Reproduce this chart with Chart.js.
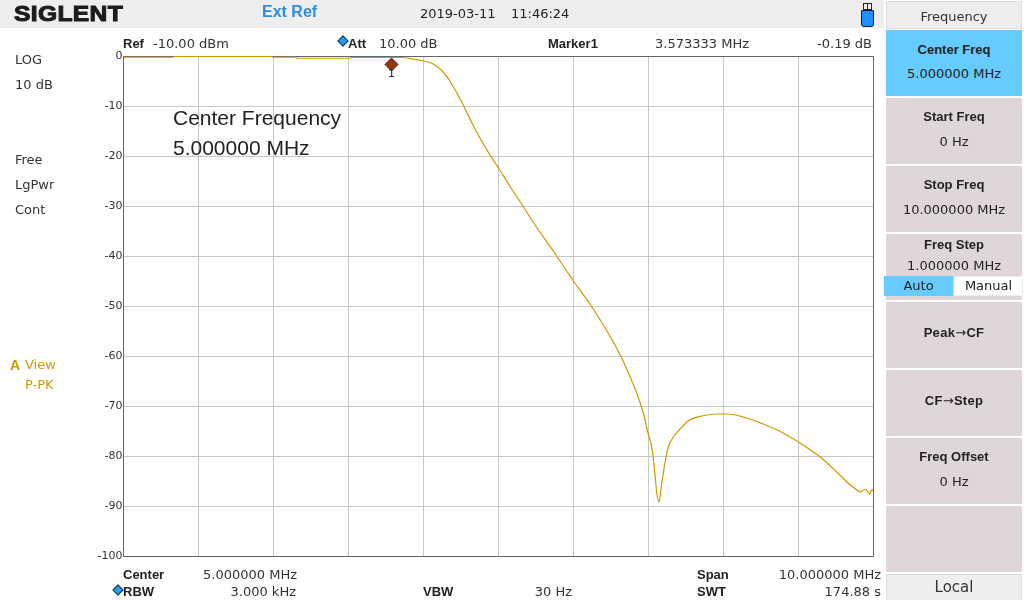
<!DOCTYPE html>
<html><head><meta charset="utf-8">
<style>
html,body{margin:0;padding:0;background:#fff;width:1024px;height:600px;overflow:hidden}
#wrap{position:relative;width:1024px;height:600px;overflow:hidden;font-family:"DejaVu Sans",sans-serif;font-size:13px;color:#333}
canvas{position:absolute;left:0;top:0}
.t{position:absolute;white-space:nowrap;line-height:14px}
.b{font-family:"Liberation Sans",sans-serif;font-weight:bold;font-size:13px;color:#222}
.r{text-align:right}
.btn{position:absolute;left:886px;width:136px;background:#dfd7d7;text-align:center}
.btn div{position:absolute;left:0;width:100%;line-height:14px}
.d{position:absolute;width:6px;height:6px;background:#2a9be8;border:1px solid #12365a;transform:rotate(45deg)}
.a{font-family:"DejaVu Sans";font-weight:normal}
</style></head><body><div id="wrap">
<div style="position:absolute;left:0;top:0;width:884px;height:28px;background:#eee"></div>
<canvas id="c" width="1024" height="600" style="width:1024px;height:600px"></canvas>
<div class="t" style="left:14px;top:1px;font:bold 22px/26px 'Liberation Sans';color:#1c1c1c;transform-origin:0 50%;transform:scaleX(1.12);letter-spacing:.3px;-webkit-text-stroke:1px #1c1c1c">SIGLENT</div>
<div class="t" style="left:262px;top:4px;font:bold 16px/16px 'Liberation Sans';color:#2b8fe0">Ext Ref</div>
<div class="t" style="left:420px;top:7px;color:#222">2019-03-11</div>
<div class="t" style="left:511px;top:7px;color:#222">11:46:24</div>
<div style="position:absolute;left:861px;top:10px;width:11px;height:15px;background:#1e90ff;border:1px solid #114;border-radius:1px 1px 3px 3px"></div>
<div style="position:absolute;left:863px;top:3px;width:3px;height:5px;border:1px solid #223;background:#eee"></div>
<div style="position:absolute;left:867px;top:3px;width:3px;height:5px;border:1px solid #223;background:#eee"></div>

<div class="t b" style="left:123px;top:37px">Ref</div>
<div class="t" style="left:153px;top:37px">-10.00 dBm</div>
<div class="d" style="left:339px;top:37px"></div>
<div class="t b" style="left:348px;top:37px">Att</div>
<div class="t" style="left:379px;top:37px">10.00 dB</div>
<div class="t b" style="left:548px;top:37px">Marker1</div>
<div class="t" style="left:655px;top:37px">3.573333 MHz</div>
<div class="t r" style="right:152px;top:37px">-0.19 dB</div>

<div class="t" style="left:15px;top:53px">LOG</div>
<div class="t" style="left:15px;top:78px">10 dB</div>
<div class="t" style="left:15px;top:153px">Free</div>
<div class="t" style="left:15px;top:178px">LgPwr</div>
<div class="t" style="left:15px;top:203px">Cont</div>
<div class="t" style="left:10px;top:358px;font:bold 14px/14px 'Liberation Sans';color:#cc9a00">A</div>
<div class="t" style="left:25px;top:358px;color:#cc9a00">View</div>
<div class="t" style="left:25px;top:378px;color:#cc9a00">P-PK</div>

<div class="t" style="left:173px;top:106px;font:21px/24px 'Liberation Sans';color:#222">Center Frequency</div>
<div class="t" style="left:173px;top:136px;font:21px/24px 'Liberation Sans';color:#222">5.000000 MHz</div>
<div class="t" style="left:388px;top:67px;font-size:11px;color:#222">1</div>

<div class="t b" style="left:123px;top:568px">Center</div>
<div class="t r" style="right:727px;top:568px">5.000000 MHz</div>
<div class="t b" style="left:697px;top:568px">Span</div>
<div class="t r" style="right:143px;top:568px">10.000000 MHz</div>
<div class="d" style="left:114px;top:586px"></div>
<div class="t b" style="left:123px;top:585px">RBW</div>
<div class="t r" style="right:728px;top:585px">3.000 kHz</div>
<div class="t b" style="left:423px;top:585px">VBW</div>
<div class="t r" style="right:452px;top:585px">30 Hz</div>
<div class="t b" style="left:697px;top:585px">SWT</div>
<div class="t r" style="right:143px;top:585px">174.88 s</div>

<div class="btn" style="top:1px;height:26px;background:#eee;border:1px solid #ddd;width:134px"><div style="top:8px;font-size:13px;color:#333">Frequency</div></div>
<div class="btn" style="top:30px;height:66px;background:#66ccff"><div class="b" style="top:13px">Center Freq</div><div style="top:37px;color:#222">5.000000 MHz</div></div>
<div class="btn" style="top:98px;height:66px"><div class="b" style="top:12px">Start Freq</div><div style="top:37px;color:#222">0 Hz</div></div>
<div class="btn" style="top:166px;height:66px"><div class="b" style="top:12px">Stop Freq</div><div style="top:37px;color:#222">10.000000 MHz</div></div>
<div class="btn" style="top:234px;height:66px"><div class="b" style="top:4px">Freq Step</div><div style="top:25px;color:#222">1.000000 MHz</div></div>
<div style="position:absolute;left:884px;top:276px;width:69px;height:20px;background:#66ccff;text-align:center;line-height:20px;color:#222;font-size:13px">Auto</div>
<div style="position:absolute;left:954px;top:276px;width:67px;height:18px;background:#fff;border:1px solid #eee;text-align:center;line-height:18px;color:#222;font-size:13px">Manual</div>
<div class="btn" style="top:302px;height:66px"><div class="b" style="top:24px;letter-spacing:.3px">Peak<span class="a">→</span>CF</div></div>
<div class="btn" style="top:370px;height:66px"><div class="b" style="top:24px;letter-spacing:.3px">CF<span class="a">→</span>Step</div></div>
<div class="btn" style="top:438px;height:66px"><div class="b" style="top:12px">Freq Offset</div><div style="top:37px;color:#222">0 Hz</div></div>
<div class="btn" style="top:506px;height:66px"></div>
<div class="btn" style="top:574px;height:25px;width:134px;background:#eee;border:1px solid #ddd"><div style="top:5px;font-size:15px;color:#333">Local</div></div>
</div>
<script src="https://cdn.jsdelivr.net/npm/chart.js@4"></script>
<script>
const yTickLabels = ["0","-10","-20","-30","-40","-50","-60","-70","-80","-90","-100"];
const freqMHz = [
 0,0.66,0.68,1.98,1.99,2.30,2.31,3.02,3.03,3.69,
 3.86,3.99,4.13,4.26,4.35,4.44,4.53,4.66,4.79,4.93,
 5.0,5.15,5.33,5.46,5.73,5.99,6.25,6.45,6.62,6.75,
 6.86,6.93,6.99,7.05,7.09,7.11,7.14,7.17,7.21,7.26,
 7.33,7.41,7.53,7.71,7.91,8.05,8.31,8.53,8.69,8.89,
 9.06,9.29,9.51,9.69,9.78,9.82,9.89,9.92,9.95,9.98,10];
const traceDb = [
 -0.15,-0.15,0,0,-0.15,-0.15,-0.35,-0.35,-0.2,-0.2,
 -0.5,-0.85,-1.5,-3.05,-4.85,-7.15,-9.7,-13.7,-17.3,-20.7,
 -22.3,-25.9,-30.0,-33.1,-38.9,-44.7,-50.2,-55.0,-59.6,-63.9,
 -68.0,-71.3,-75.1,-78.7,-84.1,-87.3,-89.1,-86.1,-82.1,-78.3,
 -76.1,-74.7,-72.9,-71.9,-71.5,-71.5,-72.3,-73.5,-74.5,-76.1,
 -77.7,-80.1,-83.1,-85.7,-86.7,-87.1,-86.6,-87,-87.5,-86.6,-87];
const markerFreq = [3.573333];
const markerDb = [-1.6];

const frame = {id:'frame',afterDatasetsDraw(ch){const a=ch.chartArea,c=ch.ctx;c.save();c.strokeStyle='#666';c.lineWidth=1;
 c.beginPath();c.moveTo(a.left,a.top);c.lineTo(a.left,a.bottom);c.lineTo(a.right,a.bottom);c.lineTo(a.right,a.top);c.stroke();c.restore();},
 beforeDatasetsDraw(ch){const a=ch.chartArea,c=ch.ctx;c.save();c.strokeStyle='#666';c.lineWidth=1;c.beginPath();c.moveTo(a.left,a.top);c.lineTo(a.right,a.top);c.stroke();c.restore();}};
new Chart(document.getElementById('c'),{
 type:'scatter',
 data:{datasets:[
  {label:'Trace',data:freqMHz.map((x,i)=>({x,y:traceDb[i]})),showLine:true,borderColor:'#cc9a00',borderWidth:1.2,pointRadius:0,cubicInterpolationMode:'monotone',clip:4},
  {label:'Marker1',data:markerFreq.map((x,i)=>({x,y:markerDb[i]})),pointStyle:'rectRot',pointRadius:6.5,backgroundColor:'#8f3a0c',borderColor:'#3a2410',borderWidth:1}
 ]},
 options:{responsive:false,animation:false,devicePixelRatio:1,
  layout:{padding:{left:0,right:150.5,top:56.5,bottom:43.5}},
  plugins:{legend:{display:false},tooltip:{enabled:false}},
  scales:{
   x:{type:'linear',min:0,max:10,afterFit(s){s.height=0},
      ticks:{display:false,stepSize:1},
      grid:{color:'#c8c8c8',lineWidth:1,drawTicks:false},border:{display:false}},
   y:{type:'linear',min:-100,max:0,afterFit(s){s.width=123.5},
      afterBuildTicks(s){s.ticks=yTickLabels.map(l=>({value:Number(l),label:l}))},
      ticks:{autoSkip:false,padding:1,color:'#333',font:{family:'DejaVu Sans',size:11},callback(v){return String(v)}},
      grid:{color:'#c8c8c8',lineWidth:1,drawTicks:false},border:{display:false}}
  }},
 plugins:[frame]
});
</script>
</body></html>
